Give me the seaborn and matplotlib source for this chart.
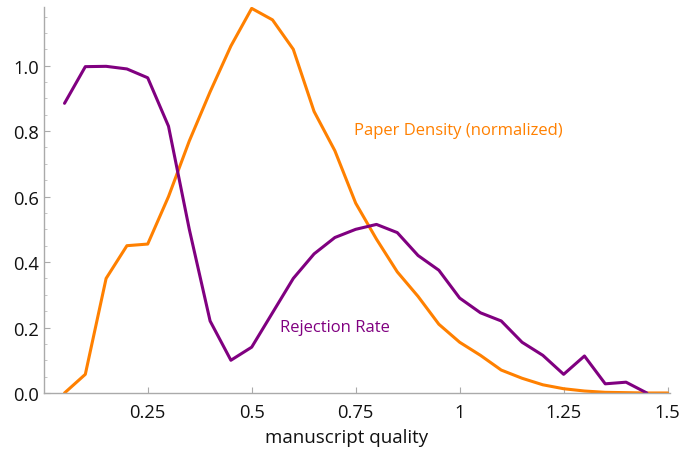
"""Rejection rate vs paper density over manuscript quality."""

import matplotlib

matplotlib.use("Agg")
import matplotlib.pyplot as plt
import pandas as pd
import seaborn as sns
from matplotlib.ticker import FixedLocator, MultipleLocator

quality = [0.05, 0.10, 0.15, 0.20, 0.25, 0.30, 0.35, 0.40, 0.45, 0.50,
           0.55, 0.60, 0.65, 0.70, 0.75, 0.80, 0.85, 0.90, 0.95, 1.00,
           1.05, 1.10, 1.15, 1.20, 1.25, 1.30, 1.35, 1.40, 1.45, 1.50]
paper_density = [0.0, 0.057, 0.35, 0.45, 0.455, 0.60, 0.77, 0.92, 1.06, 1.175,
                 1.14, 1.05, 0.86, 0.74, 0.58, 0.47, 0.37, 0.295, 0.21, 0.155,
                 0.115, 0.07, 0.045, 0.025, 0.013, 0.006, 0.002, 0.001, 0.0, 0.0]
rejection_rate = [0.885, 0.997, 0.998, 0.99, 0.963, 0.815, 0.50, 0.22, 0.10, 0.14,
                  0.245, 0.35, 0.425, 0.475, 0.50, 0.515, 0.49, 0.42, 0.375, 0.29,
                  0.245, 0.22, 0.155, 0.115, 0.057, 0.113, 0.028, 0.033, 0.0]

ORANGE = "#FF8000"
PURPLE = "#800080"

density_df = pd.DataFrame({"quality": quality, "value": paper_density})
reject_df = pd.DataFrame({"quality": quality[:len(rejection_rate)], "value": rejection_rate})

sns.set_style("ticks")
plt.rcParams["font.family"] = ["Open Sans", "DejaVu Sans"]

fig = plt.figure(figsize=(6.94, 4.56), dpi=100)
ax = fig.add_axes([0.063, 0.136, 0.902, 0.847])

sns.lineplot(data=density_df, x="quality", y="value", color=ORANGE, linewidth=2.2, ax=ax)
sns.lineplot(data=reject_df, x="quality", y="value", color=PURPLE, linewidth=2.2, ax=ax)

ax.text(0.747, 0.79, "Paper Density (normalized)", color=ORANGE, fontsize=12)
ax.text(0.567, 0.188, "Rejection Rate", color=PURPLE, fontsize=12)

ax.set_xlim(0, 1.505)
ax.set_ylim(0, 1.18)
ax.xaxis.set_major_locator(FixedLocator([0.25, 0.5, 0.75, 1.0, 1.25, 1.5]))
ax.set_xticklabels(["0.25", "0.5", "0.75", "1", "1.25", "1.5"])
ax.yaxis.set_major_locator(MultipleLocator(0.2))
ax.yaxis.set_minor_locator(MultipleLocator(0.05))
ax.set_yticklabels([f"{v:.1f}" for v in ax.get_yticks()])

for side in ("top", "right"):
    ax.spines[side].set_visible(False)
for side in ("left", "bottom"):
    ax.spines[side].set_color("#AAAAAA")
    ax.spines[side].set_linewidth(1.0)
ax.tick_params(which="major", direction="in", length=4, color="#AAAAAA", labelsize=13.2, labelcolor="#111111")
ax.tick_params(which="minor", direction="in", length=2, color="#BBBBBB")
ax.tick_params(axis="x", pad=7)

ax.set_xlabel("manuscript quality", fontsize=13.5, color="#111111")
ax.xaxis.set_label_coords(0.483, -0.09)
ax.set_ylabel("")

fig.savefig("out.png", dpi=100)
plt.close(fig)
